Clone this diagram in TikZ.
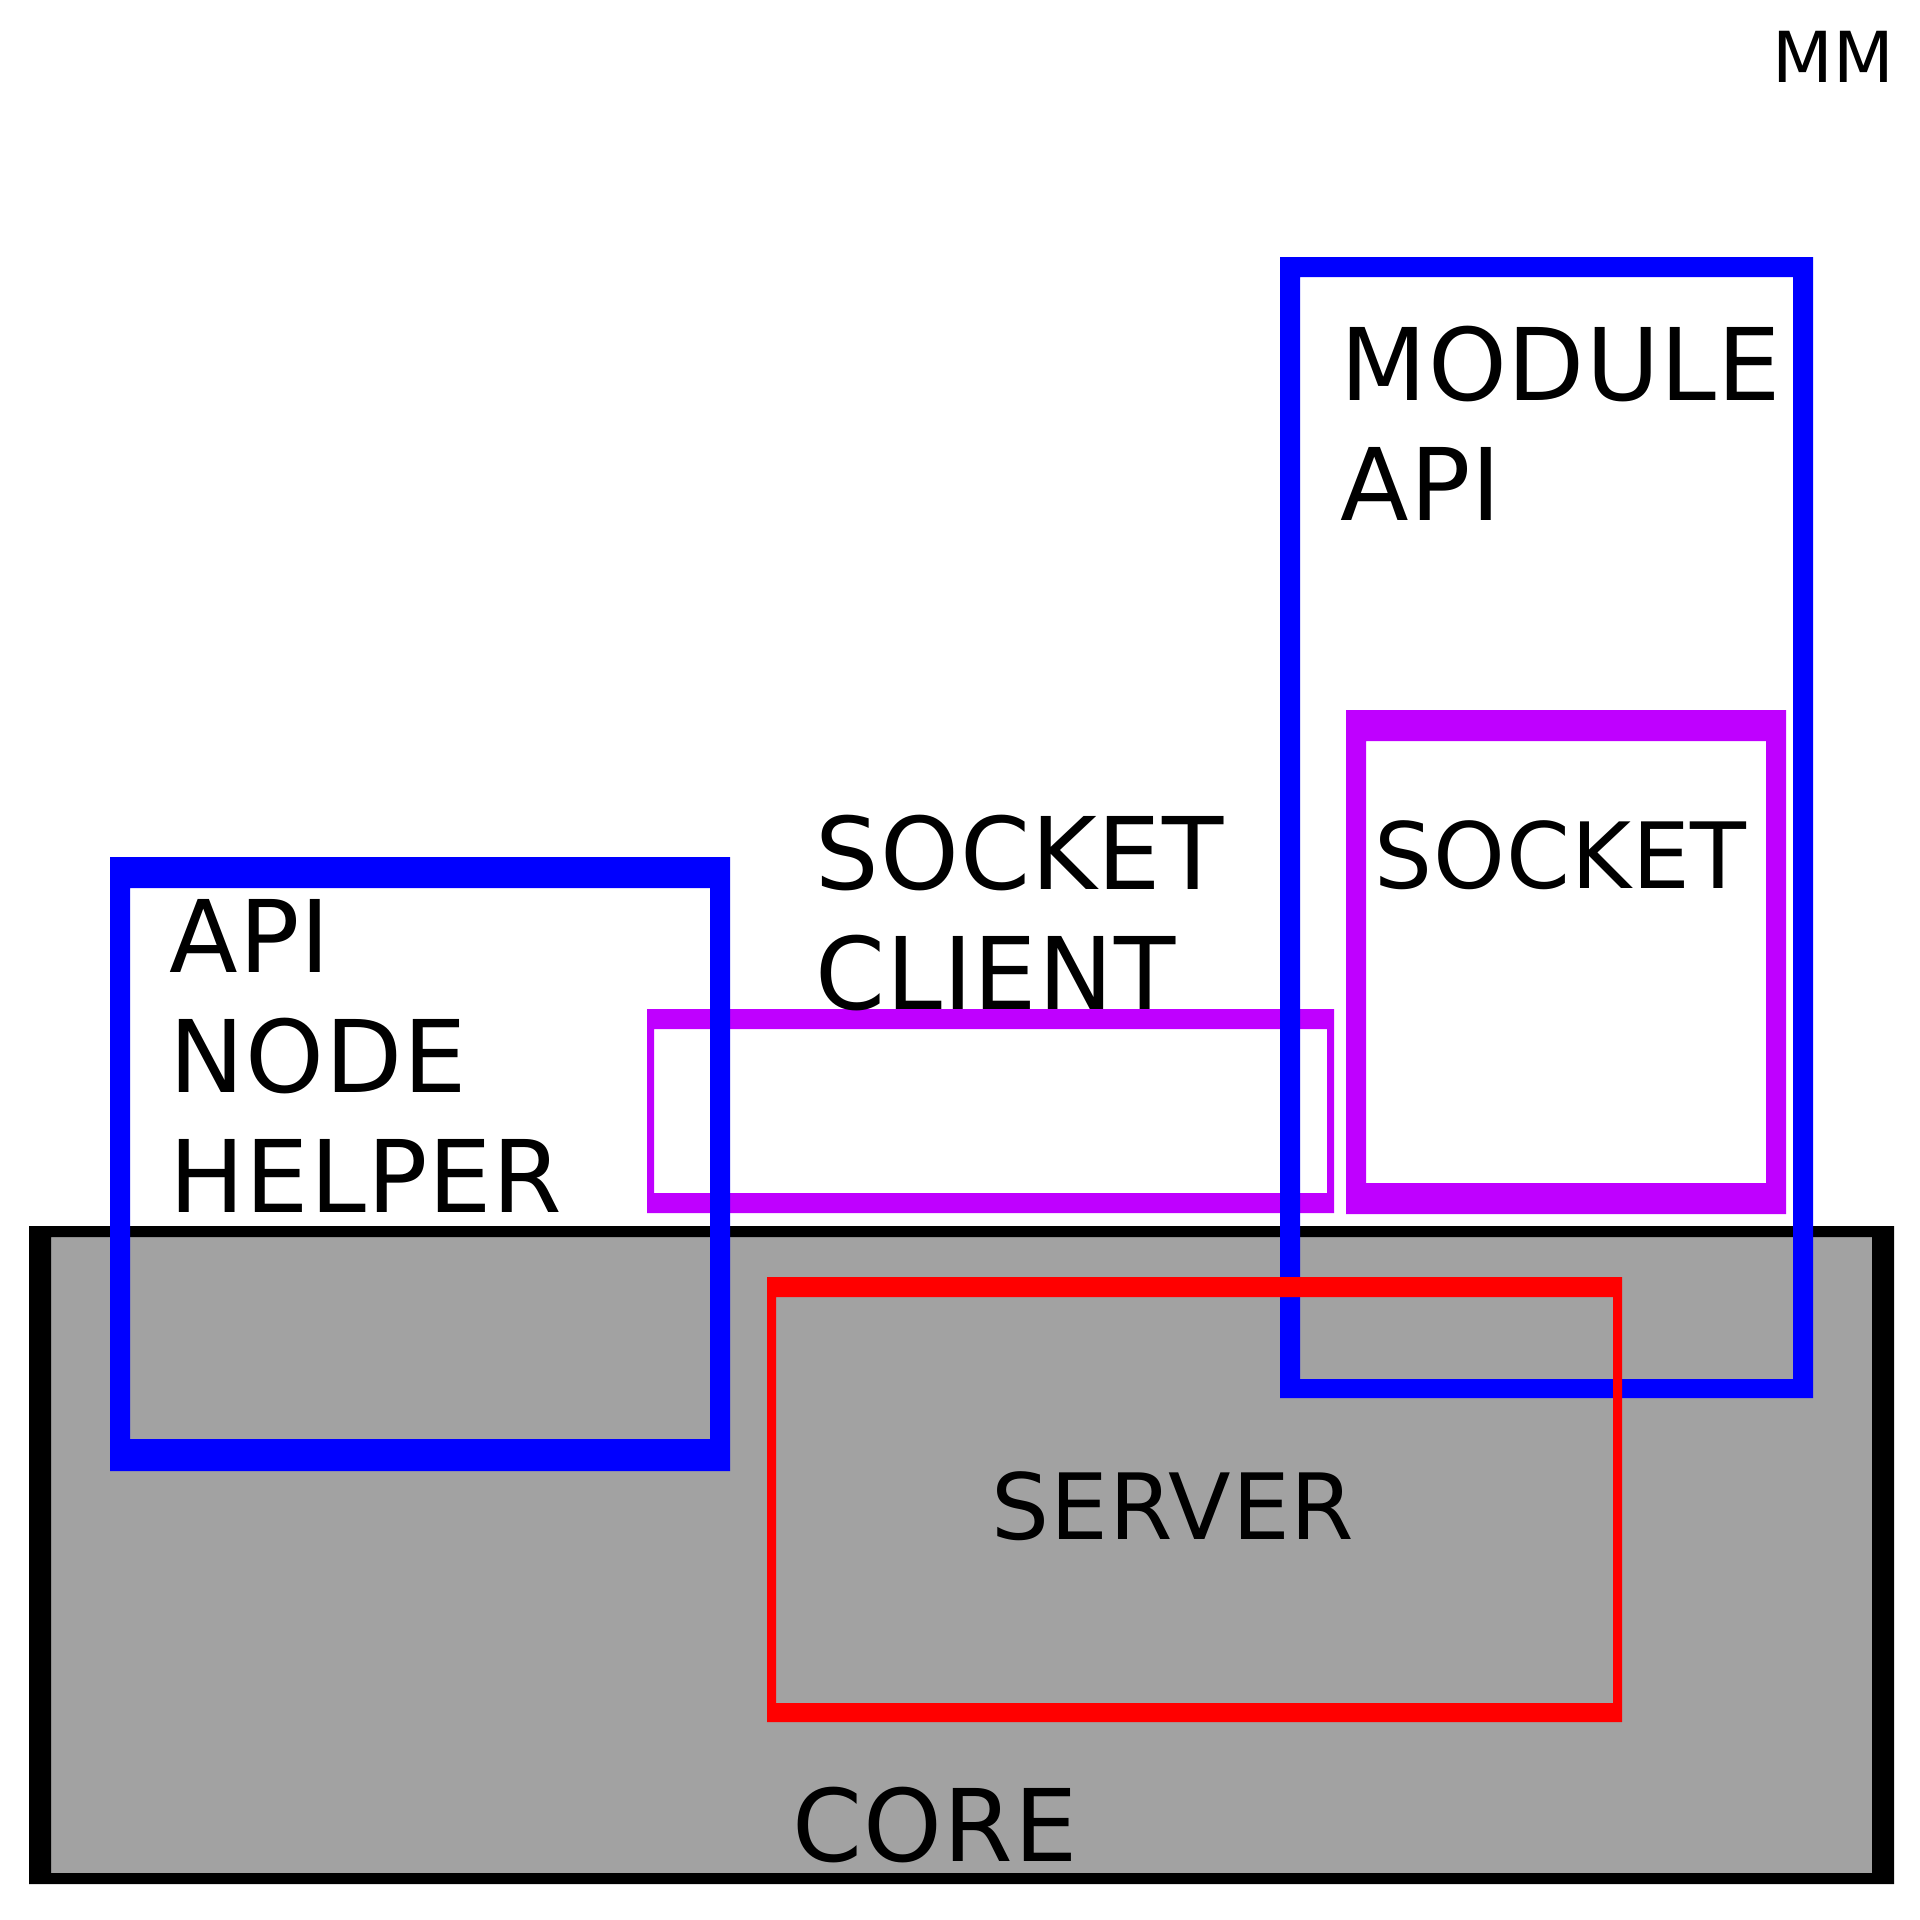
\documentclass[tikz,border=0pt]{standalone}
\usepackage{fontspec}
\setmainfont{DejaVu Sans}
\usetikzlibrary{positioning}

\definecolor{coregray}{RGB}{162,162,162}
\definecolor{sockpurple}{RGB}{191,0,255}

\begin{document}
\begin{tikzpicture}[x=0.01cm,y=-0.01cm,
  big/.style={font=\fontsize{28.5}{34.1}\selectfont\addfontfeature{LetterSpace=1},align=left,inner sep=0pt},
  mid/.style={font=\fontsize{26}{31}\selectfont\addfontfeature{LetterSpace=1},inner sep=0pt},
  frame/.style={even odd rule}]
\useasboundingbox (0,0) rectangle (1920,1920);
% core
\fill[coregray] (29,1226) rectangle (1894,1884);
\fill[black,frame] (29,1226) rectangle (1894,1884) (51,1237) rectangle (1872,1873);
% socket client
\fill[sockpurple,frame] (647,1009) rectangle (1334,1213) (654,1029) rectangle (1327,1193);
% socket
\fill[sockpurple,frame] (1346,710) rectangle (1786,1214) (1366,741) rectangle (1766,1183);
% api node helper
\fill[blue,frame] (110,857) rectangle (730,1471) (130,888) rectangle (710,1439);
% module api
\fill[blue,frame] (1280,257) rectangle (1813,1398) (1300,277) rectangle (1793,1379);
% server
\fill[red,frame] (767,1277) rectangle (1622,1722) (776,1297) rectangle (1613,1703);

\node[big,anchor=north west] (helper) at (169,899) {API\\NODE\\HELPER};
\node[big,anchor=north west] (module) at (1340,325) {MODULE\\API};
\node[big,anchor=north west] (client) at (815,814) {SOCKET\\CLIENT};
\node[mid,anchor=base west] (socket) at (1374,888) {SOCKET};
\node[mid,anchor=base west] (server) at (991,1539) {SERVER};
\node[big,anchor=base west] (core) at (792,1861) {CORE};
\node[inner sep=0pt,anchor=base west,font=\fontsize{20}{24}\selectfont] (mm) at (1772,82) {MM};
\end{tikzpicture}
\end{document}
